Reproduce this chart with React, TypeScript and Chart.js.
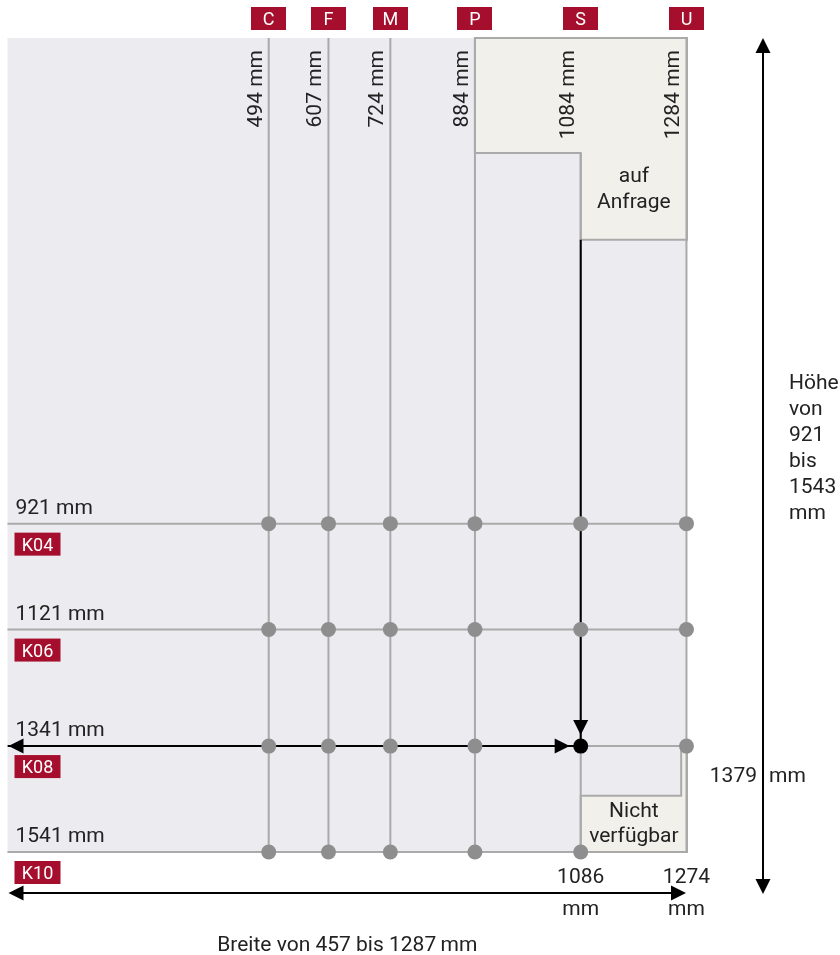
import { useEffect, useRef } from 'react';
import { Chart, registerables } from 'chart.js';

Chart.register(...registerables);

// ---- data ----
const columnLetters = ['C', 'F', 'M', 'P', 'S', 'U'];
const columnWidthsMm = [494, 607, 724, 884, 1084, 1284];
const columnLineStartMm = [4, 4, 4, 4, 221, 4];
const rowHeightsMm = [921, 1121, 1341, 1541];
const rowCodes = ['K04', 'K06', 'K08', 'K10'];
const minWidthMm = 0;
const maxWidthMm = 1285;
const minHeightMm = 4;
const maxHeightMm = 1541;
const anfrageStepMm = 221;
const anfrageBottomMm = 385;
const nichtWidthMm = 1274;
const nichtTopMm = 1435;
const selectedColumn = 'S';
const selectedRow = 'K08';
const missingColumn = 'U';
const missingRow = 'K10';
const bottomTickLabels = ['1086', '1274'];
const bottomTickColumns = ['S', 'U'];
const heightArrowLabel = '1379';
const heightRangeLines = ['Höhe', 'von', '921', 'bis', '1543', 'mm'];
const widthRangeLabel = 'Breite von 457 bis 1287\u2009mm';
const anfrageLines = ['auf', 'Anfrage'];
const nichtLines = ['Nicht', 'verfügbar'];

const FONT = 'Roboto, "Noto Sans", sans-serif';
const RED = '#a50f2d';
const TEXT = '#222222';
const GRID = '#aaaaaa';
const DOT = '#8e8e8e';
const FS = 21;

const selX = columnWidthsMm[columnLetters.indexOf(selectedColumn)];
const selY = rowHeightsMm[rowCodes.indexOf(selectedRow)];

function arrowHead(ctx: CanvasRenderingContext2D, x: number, y: number, dx: number, dy: number) {
  const len = 15, half = 7.5;
  const bx = x - dx * len, by = y - dy * len;
  const px = -dy, py = dx;
  ctx.beginPath();
  ctx.moveTo(x, y);
  ctx.lineTo(bx + px * half, by + py * half);
  ctx.lineTo(bx - px * half, by - py * half);
  ctx.closePath();
  ctx.fill();
}

const diagramPlugin = {
  id: 'diagram',
  beforeDatasetsDraw(chart: any) {
    const { ctx, scales } = chart;
    const X = (v: number) => scales.x.getPixelForValue(v);
    const Y = (v: number) => scales.y.getPixelForValue(v);
    ctx.save();
    ctx.fillStyle = '#ebebf0';
    ctx.fillRect(X(minWidthMm), Y(minHeightMm), X(maxWidthMm) - X(minWidthMm), Y(maxHeightMm) - Y(minHeightMm));
    const poly = (pts: number[][]) => {
      ctx.beginPath();
      pts.forEach(([a, b], i) => (i ? ctx.lineTo(X(a), Y(b)) : ctx.moveTo(X(a), Y(b))));
      ctx.closePath();
      ctx.fillStyle = '#f2f0ea';
      ctx.fill();
      ctx.strokeStyle = GRID;
      ctx.lineWidth = 2;
      ctx.stroke();
    };
    const pCol = columnWidthsMm[3];
    poly([
      [pCol, minHeightMm], [maxWidthMm, minHeightMm], [maxWidthMm, anfrageBottomMm], [selX, anfrageBottomMm],
      [selX, anfrageStepMm], [pCol, anfrageStepMm],
    ]);
    poly([
      [selX, nichtTopMm], [nichtWidthMm, nichtTopMm], [nichtWidthMm, selY], [maxWidthMm, selY],
      [maxWidthMm, maxHeightMm], [selX, maxHeightMm],
    ]);
    ctx.restore();
  },
  afterDatasetsDraw(chart: any) {
    const { ctx, scales, chartArea } = chart;
    const X = (v: number) => scales.x.getPixelForValue(v);
    const Y = (v: number) => scales.y.getPixelForValue(v);
    ctx.save();
    ctx.fillStyle = '#000';
    ctx.strokeStyle = '#000';
    // arrowheads of selection arrows
    arrowHead(ctx, X(minWidthMm) + 1, Y(selY), -1, 0);
    arrowHead(ctx, X(selX) - 11, Y(selY), 1, 0);
    arrowHead(ctx, X(selX), Y(selY) - 11, 0, 1);
    // bottom width arrow
    const by = chartArea.bottom + 41;
    ctx.lineWidth = 2;
    ctx.beginPath();
    ctx.moveTo(X(minWidthMm) + 5, by);
    ctx.lineTo(X(maxWidthMm) - 5, by);
    ctx.stroke();
    arrowHead(ctx, X(minWidthMm) + 1, by, -1, 0);
    arrowHead(ctx, X(maxWidthMm) - 1, by, 1, 0);
    // right height arrow
    const rx = chartArea.right + 76;
    const rb = chartArea.bottom + 42;
    ctx.beginPath();
    ctx.moveTo(rx, chartArea.top + 5);
    ctx.lineTo(rx, rb - 5);
    ctx.stroke();
    arrowHead(ctx, rx, chartArea.top, 0, -1);
    arrowHead(ctx, rx, rb, 0, 1);

    ctx.textBaseline = 'alphabetic';

    // column badges + rotated labels
    columnLetters.forEach((l, i) => {
      const cx = X(columnWidthsMm[i]);
      ctx.fillStyle = RED;
      ctx.fillRect(Math.round(cx - 17.5), chartArea.top - 31, 35, 23);
      ctx.fillStyle = '#fff';
      ctx.font = `18px ${FONT}`;
      ctx.textAlign = 'center';
      ctx.fillText(l, cx, chartArea.top - 13);
      ctx.save();
      ctx.translate(cx - 7, chartArea.top + 12);
      ctx.rotate(-Math.PI / 2);
      ctx.textAlign = 'right';
      ctx.fillStyle = TEXT;
      ctx.font = `${FS}px ${FONT}`;
      ctx.fillText(`${columnWidthsMm[i]} mm`, 0, 0);
      ctx.restore();
    });

    // row labels + badges
    rowHeightsMm.forEach((h, i) => {
      const yy = Y(h);
      ctx.fillStyle = TEXT;
      ctx.font = `${FS}px ${FONT}`;
      ctx.textAlign = 'left';
      ctx.fillText(`${h} mm`, X(minWidthMm) + 8, yy - 10);
      ctx.fillStyle = RED;
      ctx.fillRect(X(minWidthMm) + 7, yy + 9, 46, 23);
      ctx.fillStyle = '#fff';
      ctx.font = `18px ${FONT}`;
      ctx.textAlign = 'center';
      ctx.fillText(rowCodes[i], X(minWidthMm) + 30, yy + 27);
    });

    ctx.fillStyle = TEXT;
    ctx.font = `${FS}px ${FONT}`;
    ctx.textAlign = 'center';
    const ax = (X(selX) + X(maxWidthMm)) / 2;
    ctx.fillText(anfrageLines[0], ax, Y(anfrageStepMm) + 29);
    ctx.fillText(anfrageLines[1], ax, Y(anfrageStepMm) + 55);
    ctx.fillText(nichtLines[0], ax, Y(nichtTopMm) + 21);
    ctx.fillText(nichtLines[1], ax, Y(nichtTopMm) + 46);

    bottomTickLabels.forEach((t, i) => {
      const cx = X(columnWidthsMm[columnLetters.indexOf(bottomTickColumns[i])]);
      ctx.fillText(t, cx, chartArea.bottom + 31);
      ctx.fillText('mm', cx, chartArea.bottom + 63);
    });

    ctx.textAlign = 'right';
    ctx.fillText(heightArrowLabel, rx - 6, chartArea.bottom - 70);
    ctx.textAlign = 'left';
    ctx.fillText('mm', rx + 6, chartArea.bottom - 70);

    heightRangeLines.forEach((t, i) => {
      ctx.fillText(t, chartArea.right + 102, 389 + 26 * i);
    });

    ctx.textAlign = 'center';
    ctx.fillText(widthRangeLabel, (X(minWidthMm) + X(maxWidthMm)) / 2, chartArea.bottom + 99);
    ctx.restore();
  },
};

export default function App() {
  const ref = useRef<HTMLCanvasElement | null>(null);
  useEffect(() => {
    if (!ref.current) return;
    const datasets: any[] = [];
    const grayDots: { x: number; y: number }[] = [];
    rowHeightsMm.forEach((h, ri) => {
      columnWidthsMm.forEach((w, ci) => {
        const isSel = columnLetters[ci] === selectedColumn && rowCodes[ri] === selectedRow;
        const isMissing = columnLetters[ci] === missingColumn && rowCodes[ri] === missingRow;
        if (!isSel && !isMissing) grayDots.push({ x: w, y: h });
      });
    });
    datasets.push({
      data: [{ x: selX, y: selY }],
      pointRadius: 7.5,
      pointBackgroundColor: '#000',
      pointBorderWidth: 0,
      showLine: false,
      order: 0,
      clip: false,
    });
    datasets.push({
      data: grayDots,
      pointRadius: 7.5,
      pointBackgroundColor: DOT,
      pointBorderWidth: 0,
      showLine: false,
      order: 1,
      clip: false,
    });
    // selection arrows
    datasets.push({
      data: [{ x: minWidthMm, y: selY }, { x: selX, y: selY }],
      showLine: true,
      borderColor: '#000',
      borderWidth: 2,
      pointRadius: 0,
      order: 2,
    });
    datasets.push({
      data: [{ x: selX, y: anfrageBottomMm }, { x: selX, y: selY }],
      showLine: true,
      borderColor: '#000',
      borderWidth: 2,
      pointRadius: 0,
      order: 2,
    });
    // grid rows
    rowHeightsMm.forEach((h) => {
      datasets.push({
        data: [{ x: minWidthMm, y: h }, { x: maxWidthMm, y: h }],
        showLine: true,
        borderColor: GRID,
        borderWidth: 2,
        pointRadius: 0,
        order: 3,
        clip: false,
      });
    });
    // grid columns
    columnWidthsMm.forEach((w, i) => {
      datasets.push({
        data: [{ x: w, y: columnLineStartMm[i] }, { x: w, y: maxHeightMm }],
        showLine: true,
        borderColor: GRID,
        borderWidth: 2,
        pointRadius: 0,
        order: 3,
        clip: false,
      });
    });

    const chart = new Chart(ref.current, {
      type: 'scatter',
      data: { datasets },
      options: {
        animation: false,
        responsive: false,
        events: [],
        layout: { padding: { left: 6, right: 153, top: 38, bottom: 103 } },
        plugins: { legend: { display: false }, tooltip: { enabled: false } },
        scales: {
          x: { type: 'linear', min: minWidthMm, max: maxWidthMm, display: false },
          y: { type: 'linear', min: minHeightMm, max: maxHeightMm, reverse: true, display: false },
        },
      },
      plugins: [diagramPlugin],
    });
    return () => chart.destroy();
  }, []);
  return (
    <div style={{ position: 'absolute', left: 0, top: 0, width: 840, height: 955, background: '#fff' }}>
      <canvas ref={ref} width={840} height={955} style={{ width: 840, height: 955, display: 'block' }} />
    </div>
  );
}
